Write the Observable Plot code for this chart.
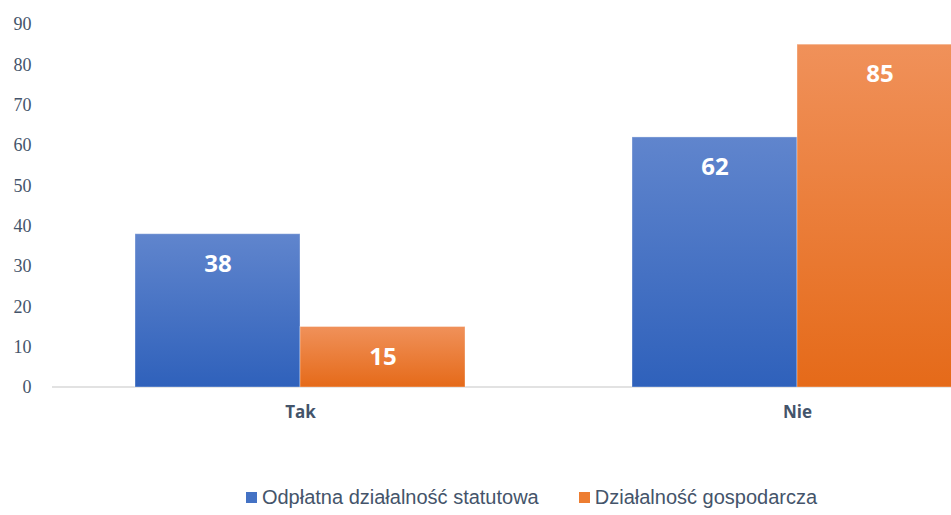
<!DOCTYPE html>
<html>
<head>
<meta charset="utf-8">
<script src="https://cdn.jsdelivr.net/npm/d3@7"></script>
<script src="https://cdn.jsdelivr.net/npm/@observablehq/plot@0.6"></script>
<style>
  html, body { margin: 0; padding: 0; background: #fff; overflow: hidden; width: 951px; height: 515px; }
  #chart svg { display: block; overflow: hidden; }
  #legend { height: 35px; display: flex; justify-content: center; align-items: center; gap: 40px;
    font-family: "Liberation Sans Narrow", "Liberation Sans", sans-serif; font-size: 20px; color: #44546a;
    padding-left: 112px; box-sizing: border-box; width: 951px; }
  #legend span.item { display: inline-flex; align-items: center; }
  #legend span.sw { display: inline-block; width: 11px; height: 11px; margin-right: 5px; }
</style>
</head>
<body>
<div id="chart"></div>
<div id="legend"></div>
<script>
const categories = ["Tak", "Nie"];
const series = ["Odpłatna działalność statutowa", "Działalność gospodarcza"];
const valuesStatutowa = [38, 62];
const valuesGospodarcza = [15, 85];
const yTicks = [0, 10, 20, 30, 40, 50, 60, 70, 80, 90];
const seriesColors = ["#4472c4", "#ed7d31"];

const data = [];
categories.forEach((c, i) => {
  data.push({category: c, series: series[0], value: valuesStatutowa[i]});
  data.push({category: c, series: series[1], value: valuesGospodarcza[i]});
});

const plot = Plot.plot({
  width: 951,
  height: 480,
  marginTop: 24,
  marginBottom: 93,
  marginLeft: 52,
  marginRight: 0,
  style: {background: "#fff"},
  fx: {domain: categories, range: [52, 1046], paddingInner: 0.336, paddingOuter: 0.168, label: null},
  x: {domain: series, padding: 0, axis: null},
  y: {domain: [0, 90], ticks: yTicks, label: null},
  color: {domain: series, range: ["url(#gBlue)", "url(#gOrange)"]},
  marks: [
    Plot.barY(data, {fx: "category", x: "series", y: "value", fill: "series", stroke: "#ffffff", strokeOpacity: 0.35, strokeWidth: 1}),
    Plot.text(data, {fx: "category", x: "series", y: "value", text: d => String(d.value), dy: 30,
      fill: "white", fontSize: 24, fontWeight: "bold", fontFamily: "'Open Sans', 'DejaVu Sans', sans-serif"}),
    Plot.axisY({ticks: yTicks, tickSize: 0, tickPadding: 104, fontSize: 18, fill: "#44546a",
      fontFamily: "'Liberation Serif', serif", label: null}),
    Plot.axisFx({anchor: "bottom", tickSize: 0, tickPadding: 18, fontSize: 17, fontWeight: "bold", fill: "#44546a",
      fontFamily: "'Open Sans', 'DejaVu Sans', sans-serif", label: null})
  ]
});

const svg = d3.select(plot);
const defs = svg.insert("defs", ":first-child");
function grad(id, top, bottom) {
  const g = defs.append("linearGradient").attr("id", id).attr("x1", 0).attr("y1", 0).attr("x2", 0).attr("y2", 1);
  g.append("stop").attr("offset", "0%").attr("stop-color", top);
  g.append("stop").attr("offset", "100%").attr("stop-color", bottom);
}
grad("gBlue", "#6085cd", "#2f61bb");
grad("gOrange", "#f0915a", "#e56a19");

// full-width baseline at y = 0, positioned via the plot's own y scale
const y0 = plot.scale("y").apply(0);
svg.insert("line", "defs + *")
  .attr("x1", 52).attr("x2", 951)
  .attr("y1", y0).attr("y2", y0)
  .attr("stroke", "#d9d9d9").attr("stroke-width", 1.5);

document.getElementById("chart").appendChild(plot);

const legend = document.getElementById("legend");
series.forEach((s, i) => {
  const item = document.createElement("span");
  item.className = "item";
  const sw = document.createElement("span");
  sw.className = "sw";
  sw.style.background = seriesColors[i];
  item.appendChild(sw);
  item.appendChild(document.createTextNode(s));
  legend.appendChild(item);
});
</script>
</body>
</html>
